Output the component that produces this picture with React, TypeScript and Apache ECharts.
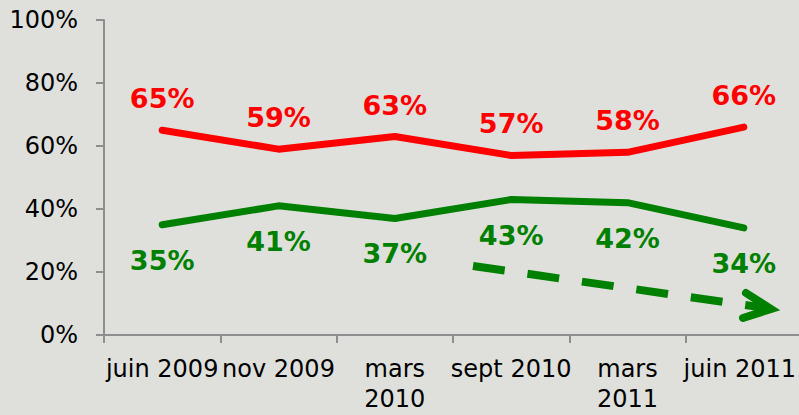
import React, { useEffect, useRef } from "react";
import * as echarts from "echarts";

const categories = ["juin 2009", "nov 2009", "mars 2010", "sept 2010", "mars 2011", "juin 2011"];
const redValues = [65, 59, 63, 57, 58, 66];
const greenValues = [35, 41, 37, 43, 42, 34];
const yTicks = [0, 20, 40, 60, 80, 100];

const BG = "#dfe0db";
const AXIS = "#8e8e8e";
const RED = "#ff0000";
const GREEN = "#008000";
const FONT = "DejaVu Sans, Verdana, sans-serif";

export default function App() {
  const ref = useRef<HTMLDivElement>(null);
  useEffect(() => {
    document.body.style.margin = "0";
    const chart = echarts.init(ref.current!, null, { renderer: "svg" });
    const labelStyle = (color: string, pos: "top" | "bottom", dist: number) => ({
      show: true,
      position: pos,
      distance: dist,
      color,
      opacity: 1,
      fontFamily: FONT,
      fontWeight: "bold" as const,
      fontSize: 27,
      formatter: "{c}%",
    });
    chart.setOption({
      animation: false,
      backgroundColor: BG,
      grid: {
        left: 104,
        top: 20,
        width: 698,
        height: 315,
        containLabel: false,
        outerBoundsMode: "none",
      },
      xAxis: {
        type: "category",
        data: categories,
        boundaryGap: true,
        axisLine: { lineStyle: { color: AXIS, width: 2 } },
        axisTick: { show: true, length: 8, lineStyle: { color: AXIS, width: 2 } },
        axisLabel: {
          color: "#000",
          fontFamily: FONT,
          fontSize: 24,
          lineHeight: 30,
          margin: 19,
          interval: 0,
          formatter: (v: string, i: number) =>
            i === categories.length - 1
              ? "{last|" + v + "}"
              : v.startsWith("mars")
              ? v.replace(" ", "\n")
              : v,
          rich: {
            last: { fontFamily: FONT, fontSize: 24, color: "#000", lineHeight: 30, padding: [0, 8, 0, 0] },
          },
        },
        splitLine: { show: false },
      },
      yAxis: {
        type: "value",
        min: yTicks[0],
        max: yTicks[yTicks.length - 1],
        interval: 20,
        axisLine: { show: true, lineStyle: { color: AXIS, width: 2 } },
        axisTick: { show: true, length: 8, lineStyle: { color: AXIS, width: 2 } },
        axisLabel: { color: "#000", fontFamily: FONT, fontSize: 24, margin: 26, formatter: "{value}%" },
        splitLine: { show: false },
      },
      series: [
        {
          type: "line",
          data: redValues,
          symbol: "circle",
          symbolSize: 0,
          showSymbol: true,
          itemStyle: { color: RED },
          lineStyle: { color: RED, width: 7, cap: "round", join: "round" },
          label: labelStyle(RED, "top", 18),
        },
        {
          type: "line",
          data: greenValues,
          symbol: "circle",
          symbolSize: 0,
          showSymbol: true,
          itemStyle: { color: GREEN },
          lineStyle: { color: GREEN, width: 7, cap: "round", join: "round" },
          label: labelStyle(GREEN, "bottom", 22),
        },
      ],
      graphic: [
        {
          type: "line",
          shape: { x1: 473, y1: 266, x2: 766, y2: 308 },
          style: { stroke: GREEN, lineWidth: 8, lineDash: [32, 23] },
          z: 10,
        },
        {
          type: "polyline",
          shape: { points: [[746, 293], [771, 309], [743, 318]] },
          style: { stroke: GREEN, lineWidth: 8, fill: "none", lineCap: "round", lineJoin: "miter" },
          z: 10,
        },
      ],
    });
    return () => chart.dispose();
  }, []);
  return (
    <div
      ref={ref}
      style={{ position: "absolute", left: 0, top: 0, width: 799, height: 415, background: BG }}
    />
  );
}
